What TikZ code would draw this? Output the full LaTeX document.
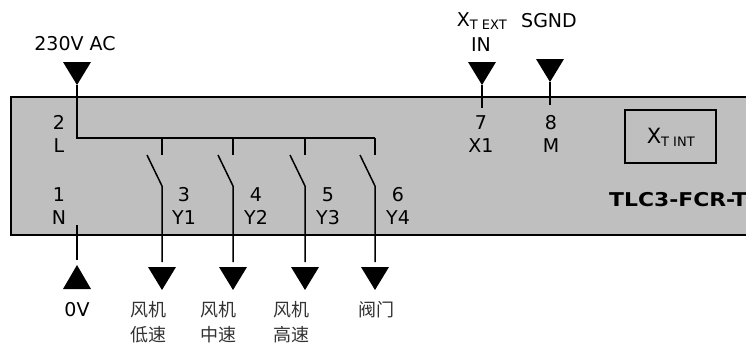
\documentclass[tikz,border=0pt]{standalone}
\usepackage{fontspec}
\setmainfont{DejaVu Sans}
\newfontfamily\cjk{Noto Sans CJK SC}
\usetikzlibrary{calc}
\tikzset{
  wire/.style={draw=black,line width=1.5pt},
  lbl/.style={inner sep=0pt,font=\fontsize{19}{23}\selectfont,align=center,text=black},
  cn/.style={inner sep=0pt,font=\cjk\fontsize{18}{25}\selectfont,align=center,text=black!80},
}
\newcommand{\downtri}[1]{\fill[black] ($(#1)+(-14,-23)$) -- ($(#1)+(14,-23)$) -- (#1) -- cycle;}
\newcommand{\uptri}[1]{\fill[black] ($(#1)+(-14,24)$) -- ($(#1)+(14,24)$) -- (#1) -- cycle;}
\newcommand{\xsub}[1]{X\textsubscript{\fontsize{13}{13}\selectfont #1}}
\begin{document}
\begin{tikzpicture}[x=1pt,y=-1pt]
\useasboundingbox (0,0) rectangle (746,343);
\clip (0,0) rectangle (746,343);
% device body
\path[fill=black!25,draw=black,line width=1.5pt] (11,97) -- (760,97) -- (760,235) -- (11,235) -- cycle;
% coordinates
\coordinate (acTip) at (77,85);
\coordinate (bus) at (77,138);
\coordinate (busEnd) at (375,138);
\coordinate (extTip) at (482,85);
\coordinate (extEnd) at (482,108);
\coordinate (gndTip) at (550,82);
\coordinate (gndEnd) at (550,105);
\coordinate (nTop) at (77,225);
\coordinate (nBot) at (77,260);
\coordinate (nTip) at (77,265);
\foreach \n/\x in {a/162,b/233,c/305,d/375}{
  \coordinate (\n Bus) at (\x,138);
  \coordinate (\n Stub) at (\x,155);
  \coordinate (\n Blade) at (\x-15,155);
  \coordinate (\n Pivot) at (\x,186);
  \coordinate (\n End) at (\x,262);
  \coordinate (\n Tip) at (\x,290);
  \draw[wire] (\n Bus) -- (\n Stub);
  \draw[wire,line join=round] (\n Blade) -- (\n Pivot) -- (\n End);
  \downtri{\n Tip}
}
\draw[wire,line join=miter] (acTip) -- (bus) -- (busEnd);
\downtri{acTip}
\draw[wire] (extTip) -- (extEnd);
\downtri{extTip}
\draw[wire] (gndTip) -- (gndEnd);
\downtri{gndTip}
\draw[wire] (nTop) -- (nBot);
\uptri{nTip}
% internal sensor
\node[draw=black,line width=1.5pt,minimum width=91pt,minimum height=53pt,inner sep=0pt,anchor=center] (xint) at (670.5,136.5) {};
\node[lbl,font=\fontsize{21}{23}\selectfont] (xintlbl) at (671,137) {\xsub{T INT}};
% labels
\node[lbl] (t230) at (75,44) {230V AC};
\node[lbl] (text) at (482,21) {\xsub{T EXT}};
\node[lbl] (tin) at (481,45) {IN};
\node[lbl] (tgnd) at (549,21) {SGND};
\node[lbl] (t2) at (59,134) {2\\L};
\node[lbl] (t7) at (481,134) {7\\X1};
\node[lbl] (t8) at (551,134) {8\\M};
\node[lbl] (t1) at (59,206) {1\\N};
\node[lbl] (t3) at (184,206) {3\\Y1};
\node[lbl] (t4) at (256,206) {4\\Y2};
\node[lbl] (t5) at (328,206) {5\\Y3};
\node[lbl] (t6) at (398,206) {6\\Y4};
\node[lbl,anchor=west,xscale=1.15,font=\bfseries\fontsize{19}{23}\selectfont] (tname) at (609,200) {TLC3-FCR-T};
\node[lbl] (t0v) at (77,310) {0V};
\node[cn] (ta) at (148,322) {风机\\低速};
\node[cn] (tb) at (218,322) {风机\\中速};
\node[cn] (tc) at (291,322) {风机\\高速};
\node[cn,anchor=north] (td) at (376,301) {阀门};
\end{tikzpicture}
\end{document}
